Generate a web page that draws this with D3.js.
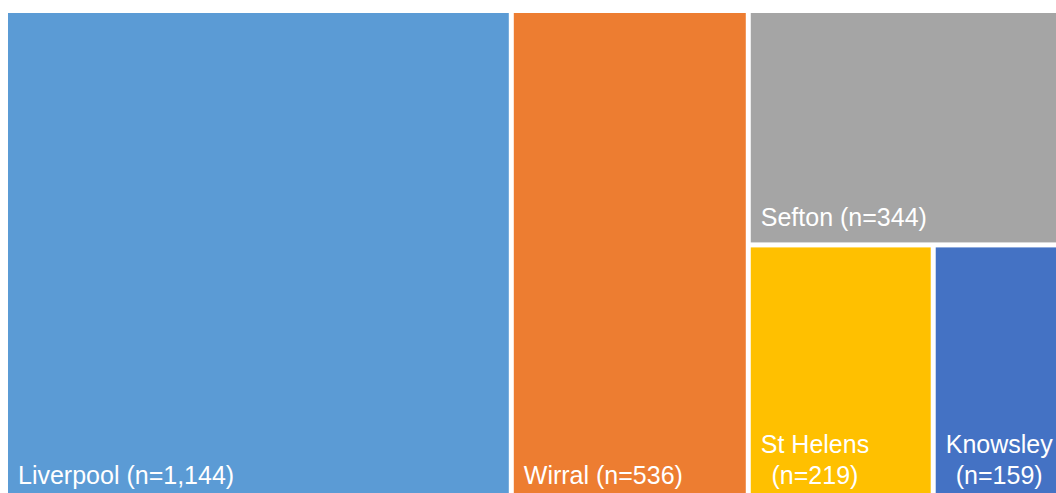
<!DOCTYPE html>
<html>
<head>
<meta charset="utf-8">
<script src="https://cdn.jsdelivr.net/npm/d3@7"></script>
<style>
  body { margin: 0; background: #fff; overflow: hidden; }
  .label { fill: #fff; font-family: "Liberation Sans", Arial, sans-serif; font-size: 25px; }
</style>
</head>
<body>
<div id="chart"></div>
<script>
// areas and counts
var areas = ["Liverpool", "Wirral", "Sefton", "St Helens", "Knowsley"];
var counts = [1144, 536, 344, 219, 159];
var colors = ["#5B9BD5", "#ED7D31", "#A5A5A5", "#FFC000", "#4472C4"];

var margin = {top: 13, left: 8},
    width = 1057,
    height = 487;

var svg = d3.select("#chart")
    .append("svg")
    .attr("width", 1056)
    .attr("height", 493)
    .append("g")
    .attr("transform", "translate(" + margin.left + "," + margin.top + ")");

var color = d3.scaleOrdinal().domain(areas).range(colors);
var fmt = d3.format(",");

// nest the smaller areas the way the original layout does (slice / dice / slice)
var leaf = function(i) { return {name: areas[i], value: counts[i]}; };
var tree = {name: "root", children: [
    leaf(0),
    leaf(1),
    {name: "g1", children: [
        leaf(2),
        {name: "g2", children: [leaf(3), leaf(4)]}
    ]}
]};

var root = d3.hierarchy(tree).sum(function(d) { return d.value || 0; });

d3.treemap()
    .tile(d3.treemapSliceDice)
    .size([width, height])
    .paddingInner(5)(root);

var cell = svg.selectAll(".cell")
    .data(root.leaves())
    .enter().append("g")
    .attr("class", "cell");

cell.append("rect")
    .attr("x", function(d) { return d.x0; })
    .attr("y", function(d) { return d.y0; })
    .attr("width", function(d) { return d.x1 - d.x0; })
    .attr("height", function(d) { return d.y1 - d.y0; })
    .attr("fill", function(d) { return color(d.data.name); });

// labels sit bottom-left, wrap onto two centred lines if they don't fit
var pad = 10, lineH = 31;
cell.each(function(d) {
    var g = d3.select(this);
    var full = d.data.name + " (n=" + fmt(d.data.value) + ")";
    var t = g.append("text").attr("class", "label").text(full);
    var w = t.node().getComputedTextLength();
    var baseY = d.y1 - 16.5;
    if (w <= d.x1 - d.x0 - 2 * pad) {
        t.attr("x", d.x0 + pad).attr("y", baseY);
        return;
    }
    t.remove();
    var lines = [d.data.name, "(n=" + fmt(d.data.value) + ")"];
    var texts = lines.map(function(s) { return g.append("text").attr("class", "label").text(s); });
    var widths = texts.map(function(s) { return s.node().getComputedTextLength(); });
    var cx = d.x0 + pad + d3.max(widths) / 2;
    texts.forEach(function(s, i) {
        s.attr("x", cx)
         .attr("y", baseY - (lines.length - 1 - i) * lineH)
         .style("text-anchor", "middle");
    });
});
</script>
</body>
</html>
